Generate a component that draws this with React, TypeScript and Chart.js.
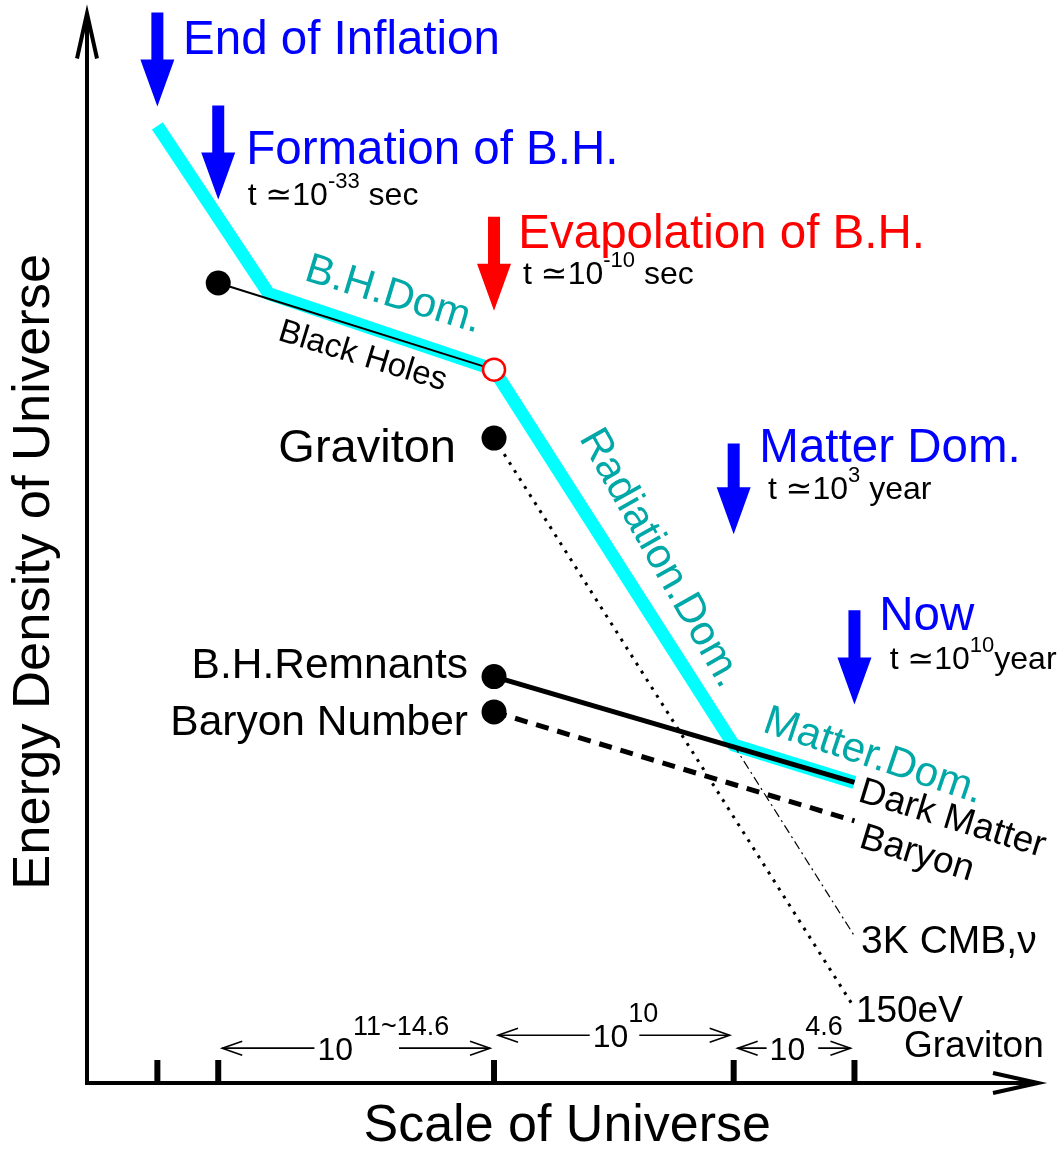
import React, { useEffect, useRef } from "react";
import { Chart, registerables } from "chart.js";

Chart.register(...registerables);

// ---------- data (chart units: x = log scale of universe, y = log energy density; axes run 0..100) ----------
const xTicks = [7.4, 13.8, 42.8, 68.0, 80.7];

const cyanX = [7.4, 19.1, 42.8, 68.0, 80.7];
const cyanY = [89.5, 73.8, 66.7, 31.6, 28.1];

const blackHoleX = [13.8, 42.8];
const blackHoleY = [74.8, 66.7];

const gravitonX = [42.8, 80.5];
const gravitonY = [60.3, 7.3];

const remnantX = [42.8, 80.7];
const remnantY = [38.0, 28.1];

const baryonX = [42.8, 80.7];
const baryonY = [34.7, 24.5];

const cmbX = [68.0, 80.8];
const cmbY = [31.6, 13.6];

const startDotX = [13.8, 42.8, 42.8, 42.8];
const startDotY = [74.8, 60.3, 38.0, 34.7];

const evapDotX = [42.8];
const evapDotY = [66.7];

// events (arrows pointing down)
const eventNames = ["End of Inflation", "Formation of B.H.", "Evapolation of B.H.", "Matter Dom.", "Now"];
const eventColors = ["#0000ff", "#0000ff", "#ff0000", "#0000ff", "#0000ff"];
const eventX = [7.4, 13.8, 42.8, 68.0, 80.7];
const eventTop = [100.1, 91.4, 81.0, 59.8, 44.2];
const eventTip = [91.3, 82.6, 72.2, 51.3, 35.4];
const eventTimeExp = ["", "-33", "-10", "3", "10"];
const eventTimeUnit = ["", " sec", " sec", " year", "year"];

// scale ranges on the x axis
const rangeStart = [13.8, 42.8, 68.0];
const rangeEnd = [42.8, 68.0, 80.7];
const rangeExp = ["11~14.6", "10", "4.6"];

// ---------- layout / annotation placement (chart units) ----------
const eventLabelPos = [
  [10.1, 96.2],
  [16.75, 85.95],
  [45.35, 78.1],
  [70.7, 58.1],
  [83.3, 42.4],
];
const eventTimePos = [
  [0, 0],
  [16.9, 82.1],
  [45.85, 74.7],
  [71.6, 54.6],
  [84.4, 38.7],
];
const rangeLineY = [3.26, 4.47, 3.26];
const rangeLabelX = [26.1, 55.05, 73.65];
const rangeGapRight = [46, 11, 13];

const FONT = '"Liberation Sans", Arial, Helvetica, "DejaVu Sans", sans-serif';
const TEAL = "#00a8a8";

type Seg = { t: string; s: number; dy?: number };

function zip(xs: number[], ys: number[]) {
  return xs.map((x, i) => ({ x, y: ys[i] }));
}

function drawSegs(ctx: CanvasRenderingContext2D, x: number, y: number, segs: Seg[], align = "left") {
  const widths = segs.map((g) => {
    ctx.font = `${g.s}px ${FONT}`;
    return ctx.measureText(g.t).width;
  });
  const total = widths.reduce((a, b) => a + b, 0);
  let cx = align === "right" ? x - total : align === "center" ? x - total / 2 : x;
  ctx.textAlign = "left";
  ctx.textBaseline = "alphabetic";
  segs.forEach((g, i) => {
    ctx.font = `${g.s}px ${FONT}`;
    ctx.fillText(g.t, cx, y + (g.dy || 0));
    cx += widths[i];
  });
}

function rotText(ctx: CanvasRenderingContext2D, text: string, x: number, y: number, deg: number, size: number, color: string, align: CanvasTextAlign = "left") {
  ctx.save();
  ctx.translate(x, y);
  ctx.rotate((deg * Math.PI) / 180);
  ctx.font = `${size}px ${FONT}`;
  ctx.fillStyle = color;
  ctx.textAlign = align;
  ctx.textBaseline = "alphabetic";
  ctx.fillText(text, 0, 0);
  ctx.restore();
}

function openHead(ctx: CanvasRenderingContext2D, tx: number, ty: number, dirx: number, diry: number, len: number, half: number) {
  const nx = -diry;
  const ny = dirx;
  ctx.beginPath();
  ctx.moveTo(tx - dirx * len + nx * half, ty - diry * len + ny * half);
  ctx.lineTo(tx, ty);
  ctx.lineTo(tx - dirx * len - nx * half, ty - diry * len - ny * half);
  ctx.stroke();
}

const axesPlugin = {
  id: "axesPlugin",
  beforeDatasetsDraw(chart: any) {
    const ctx: CanvasRenderingContext2D = chart.ctx;
    const xs = chart.scales.x;
    const ys = chart.scales.y;
    const X = (v: number) => xs.getPixelForValue(v);
    const Y = (v: number) => ys.getPixelForValue(v);
    const ox = X(0);
    const oy = Y(0);
    ctx.save();
    ctx.strokeStyle = "#000";
    ctx.lineWidth = 4;
    ctx.lineCap = "butt";
    ctx.lineJoin = "miter";
    // y axis
    ctx.beginPath();
    ctx.moveTo(ox, oy + 2);
    ctx.lineTo(ox, Y(100) + 2);
    ctx.stroke();
    openHead(ctx, ox, Y(100), 0, -1, 45, 10);
    // x axis
    ctx.beginPath();
    ctx.moveTo(ox - 2, oy);
    ctx.lineTo(X(100) - 2, oy);
    ctx.stroke();
    openHead(ctx, X(100), oy, 1, 0, 45, 10);
    // ticks
    ctx.lineWidth = 6;
    xTicks.forEach((t) => {
      ctx.beginPath();
      ctx.moveTo(X(t), oy);
      ctx.lineTo(X(t), oy - 23);
      ctx.stroke();
    });
    ctx.restore();
  },
  afterDatasetsDraw(chart: any) {
    const ctx: CanvasRenderingContext2D = chart.ctx;
    const xs = chart.scales.x;
    const ys = chart.scales.y;
    const X = (v: number) => xs.getPixelForValue(v);
    const Y = (v: number) => ys.getPixelForValue(v);
    ctx.save();

    // event arrows + labels
    eventNames.forEach((name, i) => {
      const cx = X(eventX[i]);
      const top = Y(eventTop[i]);
      const tip = Y(eventTip[i]);
      const headLen = 47;
      const hs = tip - headLen;
      ctx.fillStyle = eventColors[i];
      ctx.beginPath();
      ctx.moveTo(cx - 6, top);
      ctx.lineTo(cx + 6, top);
      ctx.lineTo(cx + 6, hs);
      ctx.lineTo(cx + 17, hs);
      ctx.lineTo(cx, tip);
      ctx.lineTo(cx - 17, hs);
      ctx.lineTo(cx - 6, hs);
      ctx.closePath();
      ctx.fill();

      const [lx, ly] = eventLabelPos[i];
      drawSegs(ctx, X(lx), Y(ly), [{ t: name, s: 47.5 }]);
      if (eventTimeExp[i]) {
        ctx.fillStyle = "#000";
        const [tx, ty] = eventTimePos[i];
        drawSegs(ctx, X(tx), Y(ty), [
          { t: "t \u2243" + "10", s: 32 },
          { t: eventTimeExp[i], s: 22, dy: -17 },
          { t: eventTimeUnit[i], s: 32 },
        ]);
      }
    });

    // point labels
    ctx.fillStyle = "#000";
    drawSegs(ctx, X(38.8), Y(58.05), [{ t: "Graviton", s: 47 }], "right");
    drawSegs(ctx, X(40.06), Y(37.85), [{ t: "B.H.Remnants", s: 42.5 }], "right");
    drawSegs(ctx, X(40.06), Y(32.5), [{ t: "Baryon Number", s: 42.5 }], "right");
    drawSegs(ctx, X(81.4), Y(12.2), [{ t: "3K CMB,\u03bd", s: 39 }]);
    drawSegs(ctx, X(80.85), Y(5.7), [{ t: "150eV", s: 37 }]);
    drawSegs(ctx, X(85.9), Y(2.45), [{ t: "Graviton", s: 37 }]);

    // rotated line labels
    rotText(ctx, "B.H.Dom.", X(22.7), Y(75.1), 17, 42, TEAL);
    rotText(ctx, "Black Holes", X(19.95), Y(69.5), 17, 33, "#000");
    rotText(ctx, "Radiation.Dom.", X(51.7), Y(60.3), 60.5, 42, TEAL);
    rotText(ctx, "Matter.Dom.", X(70.9), Y(32.9), 18.5, 42, TEAL);
    rotText(ctx, "Dark Matter", X(80.95), Y(26.4), 17, 37, "#000");
    rotText(ctx, "Baryon", X(81.05), Y(22.1), 17, 37, "#000");

    // scale ranges
    ctx.strokeStyle = "#000";
    ctx.fillStyle = "#000";
    ctx.lineWidth = 1.6;
    rangeExp.forEach((exp, i) => {
      const a = X(rangeStart[i]) + 4;
      const b = X(rangeEnd[i]) - 4;
      const y = Y(rangeLineY[i]);
      const lc = X(rangeLabelX[i]);
      ctx.font = `32px ${FONT}`;
      const w = ctx.measureText("10").width;
      const l0 = lc - w / 2;
      const r0 = lc + w / 2;
      ctx.beginPath();
      ctx.moveTo(a, y);
      ctx.lineTo(l0 - 3, y);
      ctx.moveTo(r0 + rangeGapRight[i], y);
      ctx.lineTo(b, y);
      ctx.stroke();
      openHead(ctx, a, y, -1, 0, 20, 7);
      openHead(ctx, b, y, 1, 0, 20, 7);
      drawSegs(ctx, l0, y + 12, [
        { t: "10", s: 32 },
        { t: exp, s: 27, dy: -25 },
      ]);
    });

    // axis titles
    ctx.fillStyle = "#000";
    rotText(ctx, "Energy Density of Universe", X(-4.0), Y(47.8), -90, 52.5, "#000", "center");
    drawSegs(ctx, X(50.5), Y(-5.45), [{ t: "Scale of Universe", s: 52 }], "center");

    ctx.restore();
  },
};

export default function App() {
  const ref = useRef<HTMLCanvasElement | null>(null);
  useEffect(() => {
    if (!ref.current) return;
    const line = (data: any, color: string, width: number, dash: number[], order: number) => ({
      type: "scatter" as const,
      data,
      showLine: true,
      borderColor: color,
      borderWidth: width,
      borderDash: dash,
      borderCapStyle: "butt" as const,
      borderJoinStyle: "round" as const,
      pointRadius: 0,
      pointHoverRadius: 0,
      fill: false,
      clip: false as any,
      order,
    });
    const chart = new Chart(ref.current, {
      type: "scatter",
      data: {
        datasets: [
          line(zip(cyanX, cyanY), "#00ffff", 13, [], 10),
          line(zip(blackHoleX, blackHoleY), "#000", 2, [], 5),
          line(zip(gravitonX, gravitonY), "#000", 3, [3, 6.5], 5),
          line(zip(remnantX, remnantY), "#000", 5, [], 5),
          line(zip(baryonX, baryonY), "#000", 5, [13, 9], 5),
          line(zip(cmbX, cmbY), "#000", 1.2, [9, 4, 2, 4], 5),
          {
            type: "scatter",
            data: zip(startDotX, startDotY),
            pointRadius: 12.5,
            pointBackgroundColor: "#000",
            pointBorderWidth: 0,
            clip: false as any,
            order: 1,
          },
          {
            type: "scatter",
            data: zip(evapDotX, evapDotY),
            pointRadius: 11,
            pointBackgroundColor: "#fff",
            pointBorderColor: "#ff0000",
            pointBorderWidth: 2.5,
            clip: false as any,
            order: 1,
          },
        ] as any,
      },
      options: {
        responsive: false,
        animation: false,
        devicePixelRatio: 1,
        layout: { padding: { left: 87, right: 26, top: 8, bottom: 66 } },
        scales: {
          x: { type: "linear", min: 0, max: 100, display: false },
          y: { type: "linear", min: 0, max: 100, display: false },
        },
        plugins: { legend: { display: false }, tooltip: { enabled: false } },
        events: [],
      },
      plugins: [axesPlugin],
    });
    return () => chart.destroy();
  }, []);
  return (
    <div style={{ position: "absolute", left: 0, top: 0, width: 1064, height: 1149, background: "#fff" }}>
      <canvas ref={ref} width={1064} height={1149} style={{ width: 1064, height: 1149, display: "block" }} />
    </div>
  );
}
